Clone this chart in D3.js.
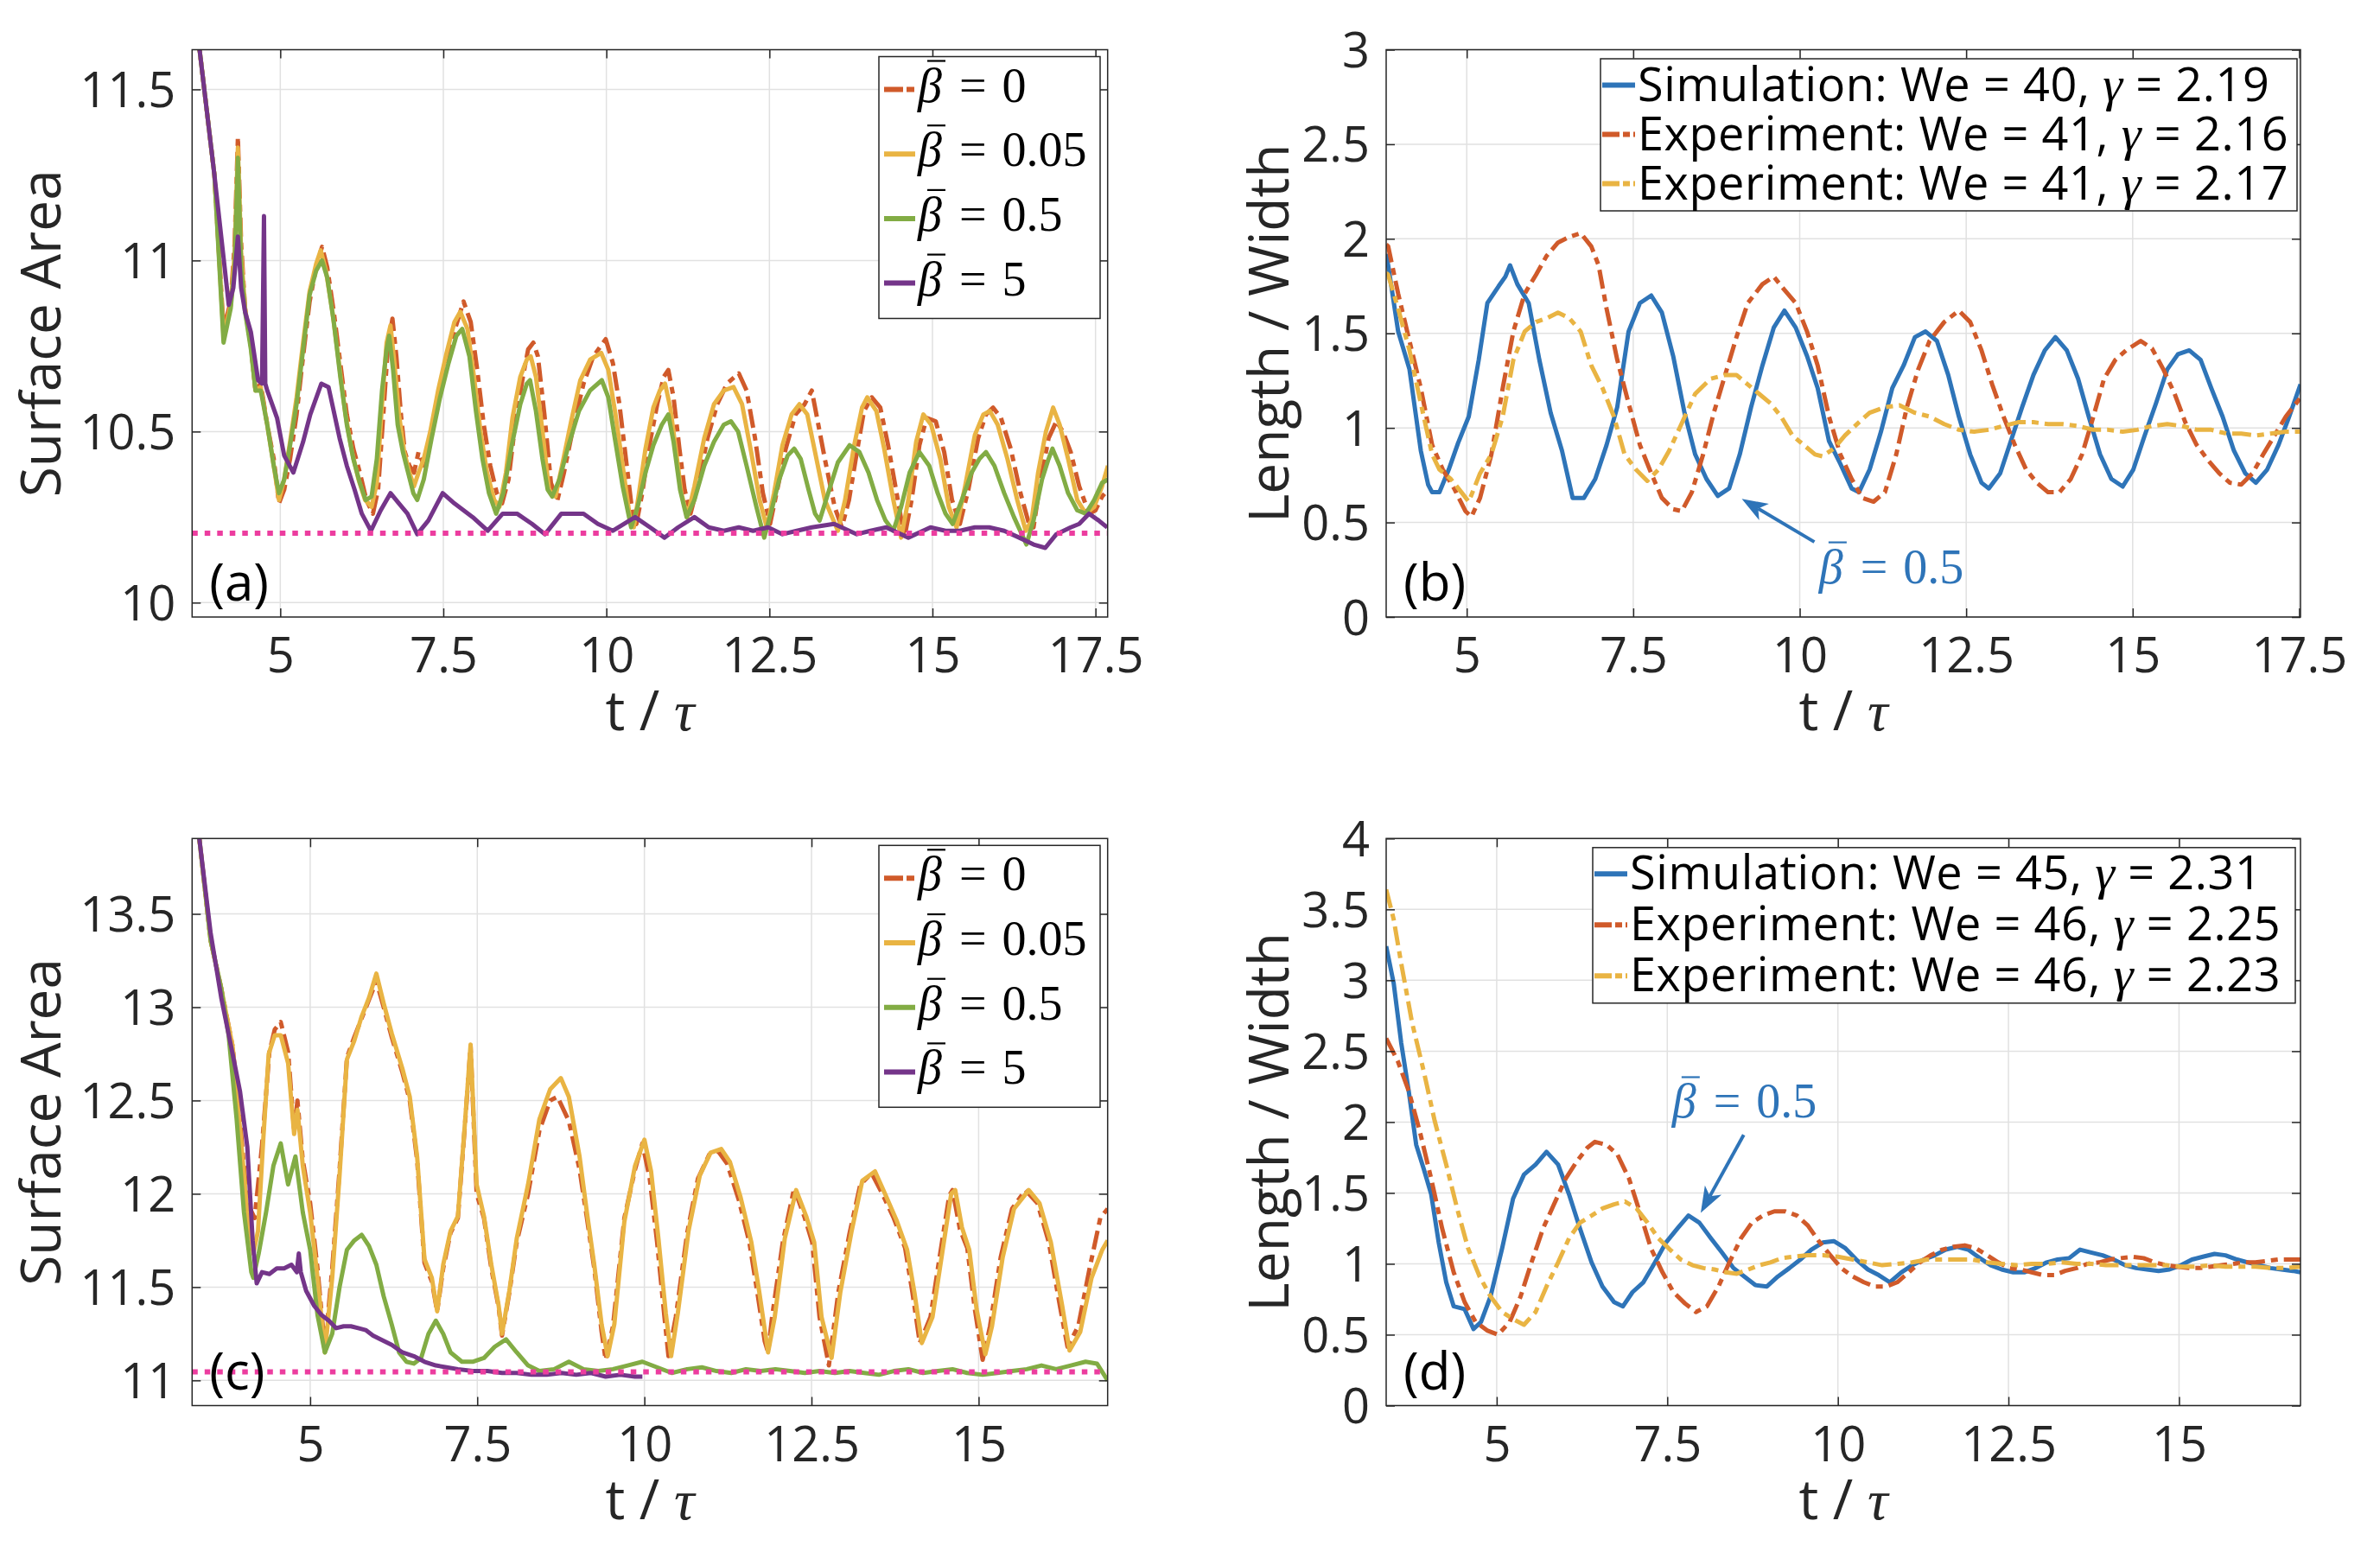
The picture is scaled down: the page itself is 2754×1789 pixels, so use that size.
<!DOCTYPE html>
<html><head><meta charset="utf-8">
<script src="https://cdn.jsdelivr.net/npm/d3@7"></script>
<style>body{margin:0;background:#fff}svg{display:block}</style>
</head><body>
<svg id="c" width="2754" height="1789"></svg>
<script>
// ---------------- DATA ----------------
const xTicksAB = [5, 7.5, 10, 12.5, 15, 17.5];
const xTicksCD = [5, 7.5, 10, 12.5, 15];
const yTicksA = [10, 10.5, 11, 11.5];
const yTicksB = [0, 0.5, 1, 1.5, 2, 2.5, 3];
const yTicksC = [11, 11.5, 12, 12.5, 13, 13.5];
const yTicksD = [0, 0.5, 1, 1.5, 2, 2.5, 3, 3.5, 4];
const betaLabels = ["0", "0.05", "0.5", "5"];
const legendB = [["Simulation: We = 40, ", " = 2.19"], ["Experiment: We = 41, ", " = 2.16"], ["Experiment: We = 41, ", " = 2.17"]];
const legendD = [["Simulation: We = 45, ", " = 2.31"], ["Experiment: We = 46, ", " = 2.25"], ["Experiment: We = 46, ", " = 2.23"]];
const refA = 10.203;
const refC = 11.046;

// panel (a) surface area
const a_b0 = [[3.65,11.66],[3.76,11.62],[3.99,11.25],[4.13,10.80],[4.24,10.88],[4.30,11.05],[4.35,11.36],[4.40,11.05],[4.46,10.86],[4.55,10.75],[4.62,10.62],[4.70,10.64],[4.80,10.52],[4.90,10.42],[4.98,10.29],[5.06,10.33],[5.15,10.42],[5.25,10.55],[5.35,10.72],[5.45,10.88],[5.55,10.98],[5.64,11.04],[5.72,10.98],[5.82,10.85],[5.92,10.70],[6.02,10.55],[6.12,10.45],[6.22,10.38],[6.32,10.30],[6.42,10.26],[6.50,10.33],[6.58,10.55],[6.65,10.75],[6.72,10.83],[6.78,10.72],[6.85,10.55],[6.91,10.44],[6.98,10.40],[7.05,10.38],[7.12,10.44],[7.21,10.40],[7.30,10.48],[7.42,10.58],[7.55,10.70],[7.68,10.80],[7.81,10.88],[7.92,10.82],[8.02,10.68],[8.12,10.52],[8.22,10.40],[8.32,10.32],[8.40,10.29],[8.50,10.36],[8.60,10.52],[8.72,10.66],[8.80,10.74],[8.88,10.76],[8.95,10.72],[9.05,10.55],[9.15,10.35],[9.25,10.30],[9.35,10.38],[9.50,10.52],[9.65,10.64],[9.80,10.72],[9.99,10.77],[10.10,10.70],[10.20,10.58],[10.30,10.42],[10.40,10.26],[10.46,10.23],[10.55,10.32],[10.65,10.45],[10.78,10.58],[10.88,10.66],[10.95,10.68],[11.03,10.60],[11.12,10.45],[11.20,10.33],[11.29,10.26],[11.40,10.34],[11.55,10.48],[11.70,10.58],[11.85,10.64],[12.03,10.67],[12.15,10.62],[12.28,10.48],[12.40,10.32],[12.51,10.23],[12.62,10.33],[12.75,10.45],[12.90,10.55],[13.04,10.58],[13.15,10.62],[13.22,10.55],[13.35,10.42],[13.50,10.28],[13.61,10.22],[13.72,10.30],[13.85,10.45],[13.95,10.56],[14.07,10.60],[14.20,10.57],[14.32,10.46],[14.45,10.32],[14.57,10.19],[14.68,10.30],[14.80,10.46],[14.91,10.54],[15.05,10.53],[15.18,10.44],[15.30,10.30],[15.42,10.23],[15.55,10.33],[15.70,10.48],[15.82,10.55],[15.93,10.57],[16.05,10.54],[16.20,10.45],[16.35,10.32],[16.48,10.23],[16.55,10.22],[16.65,10.35],[16.78,10.48],[16.90,10.53],[17.00,10.50],[17.12,10.44],[17.25,10.34],[17.40,10.26],[17.50,10.27],[17.60,10.31],[17.69,10.33]];
const a_b005 = [[3.65,11.66],[3.76,11.62],[3.99,11.25],[4.13,10.78],[4.24,10.87],[4.30,11.02],[4.35,11.33],[4.40,11.02],[4.46,10.86],[4.55,10.75],[4.62,10.62],[4.70,10.63],[4.80,10.52],[4.90,10.40],[4.98,10.30],[5.06,10.36],[5.15,10.47],[5.25,10.60],[5.35,10.76],[5.45,10.91],[5.55,10.99],[5.62,11.03],[5.70,10.97],[5.80,10.85],[5.90,10.70],[6.00,10.55],[6.10,10.44],[6.20,10.36],[6.30,10.30],[6.40,10.28],[6.48,10.35],[6.56,10.58],[6.63,10.76],[6.69,10.81],[6.75,10.70],[6.82,10.55],[6.90,10.44],[6.98,10.38],[7.05,10.34],[7.12,10.38],[7.20,10.42],[7.30,10.50],[7.42,10.62],[7.55,10.73],[7.67,10.82],[7.76,10.85],[7.87,10.80],[7.97,10.66],[8.07,10.50],[8.17,10.38],[8.28,10.30],[8.36,10.28],[8.46,10.38],[8.56,10.54],[8.68,10.66],[8.78,10.71],[8.84,10.72],[8.92,10.66],[9.02,10.50],[9.12,10.33],[9.22,10.31],[9.32,10.40],[9.46,10.53],[9.60,10.65],[9.75,10.71],[9.92,10.73],[10.03,10.68],[10.14,10.55],[10.25,10.40],[10.36,10.25],[10.42,10.22],[10.50,10.32],[10.60,10.45],[10.72,10.57],[10.82,10.62],[10.90,10.64],[10.98,10.57],[11.07,10.44],[11.15,10.32],[11.24,10.25],[11.35,10.34],[11.50,10.48],[11.65,10.58],[11.80,10.62],[11.95,10.63],[12.08,10.58],[12.22,10.44],[12.35,10.30],[12.46,10.22],[12.57,10.32],[12.70,10.46],[12.84,10.55],[12.96,10.58],[13.08,10.55],[13.20,10.44],[13.35,10.30],[13.55,10.21],[13.66,10.30],[13.80,10.46],[13.92,10.57],[14.00,10.60],[14.14,10.56],[14.26,10.45],[14.40,10.30],[14.52,10.19],[14.63,10.30],[14.75,10.47],[14.86,10.55],[14.98,10.52],[15.12,10.42],[15.25,10.28],[15.37,10.22],[15.50,10.34],[15.65,10.49],[15.78,10.55],[15.88,10.56],[16.00,10.52],[16.15,10.42],[16.30,10.30],[16.43,10.21],[16.52,10.24],[16.62,10.38],[16.74,10.50],[16.85,10.57],[16.95,10.52],[17.08,10.42],[17.22,10.30],[17.35,10.26],[17.48,10.28],[17.60,10.34],[17.69,10.40]];
const a_b05 = [[3.65,11.66],[3.76,11.62],[3.99,11.25],[4.13,10.76],[4.24,10.86],[4.30,10.98],[4.35,11.30],[4.40,10.98],[4.46,10.85],[4.55,10.74],[4.62,10.62],[4.70,10.62],[4.80,10.52],[4.90,10.40],[4.98,10.32],[5.06,10.36],[5.15,10.46],[5.25,10.58],[5.35,10.74],[5.45,10.90],[5.55,10.97],[5.64,11.00],[5.72,10.95],[5.82,10.82],[5.92,10.66],[6.02,10.52],[6.12,10.42],[6.22,10.35],[6.31,10.30],[6.40,10.31],[6.48,10.42],[6.56,10.62],[6.63,10.74],[6.67,10.78],[6.73,10.68],[6.80,10.52],[6.88,10.44],[6.96,10.38],[7.04,10.32],[7.10,10.30],[7.20,10.36],[7.32,10.48],[7.45,10.60],[7.58,10.70],[7.70,10.78],[7.79,10.80],[7.90,10.72],[8.00,10.56],[8.10,10.42],[8.20,10.32],[8.31,10.26],[8.42,10.32],[8.55,10.46],[8.68,10.58],[8.78,10.64],[8.83,10.65],[8.92,10.56],[9.02,10.42],[9.10,10.33],[9.17,10.31],[9.28,10.36],[9.42,10.46],[9.58,10.56],[9.75,10.62],[9.93,10.65],[10.03,10.60],[10.13,10.48],[10.25,10.34],[10.38,10.22],[10.48,10.28],[10.60,10.38],[10.72,10.46],[10.85,10.52],[10.95,10.55],[11.03,10.47],[11.13,10.33],[11.23,10.25],[11.35,10.30],[11.50,10.40],[11.65,10.47],[11.80,10.52],[11.91,10.53],[12.02,10.50],[12.15,10.40],[12.30,10.28],[12.42,10.19],[12.52,10.26],[12.65,10.36],[12.78,10.43],[12.88,10.45],[12.98,10.42],[13.10,10.33],[13.20,10.26],[13.27,10.24],[13.40,10.32],[13.55,10.41],[13.73,10.46],[13.88,10.44],[14.02,10.38],[14.15,10.30],[14.28,10.24],[14.40,10.21],[14.52,10.28],[14.65,10.38],[14.80,10.44],[14.95,10.40],[15.08,10.32],[15.20,10.26],[15.31,10.23],[15.45,10.30],[15.60,10.38],[15.72,10.42],[15.82,10.44],[15.95,10.40],[16.10,10.32],[16.25,10.25],[16.44,10.17],[16.55,10.24],[16.68,10.36],[16.78,10.42],[16.84,10.45],[16.95,10.40],[17.08,10.32],[17.22,10.27],[17.35,10.26],[17.48,10.30],[17.60,10.35],[17.69,10.36]];
const a_b5 = [[3.65,11.66],[3.76,11.62],[3.99,11.25],[4.21,10.87],[4.28,10.92],[4.35,11.07],[4.40,10.92],[4.46,10.85],[4.55,10.79],[4.66,10.65],[4.72,10.64],[4.75,11.13],[4.77,10.64],[4.80,10.62],[4.95,10.54],[5.06,10.43],[5.20,10.38],[5.35,10.47],[5.46,10.55],[5.63,10.64],[5.74,10.63],[5.91,10.48],[6.02,10.40],[6.14,10.33],[6.25,10.26],[6.39,10.21],[6.54,10.27],[6.69,10.32],[6.82,10.29],[6.95,10.26],[7.10,10.20],[7.27,10.24],[7.49,10.32],[7.67,10.29],[7.95,10.25],[8.18,10.21],[8.41,10.26],[8.63,10.26],[8.86,10.23],[9.06,10.20],[9.31,10.26],[9.65,10.26],[9.87,10.23],[10.10,10.21],[10.44,10.25],[10.67,10.22],[10.89,10.19],[11.10,10.22],[11.35,10.25],[11.57,10.22],[11.80,10.21],[12.03,10.22],[12.25,10.21],[12.48,10.22],[12.70,10.20],[12.92,10.21],[13.15,10.22],[13.49,10.23],[13.84,10.20],[14.05,10.21],[14.29,10.22],[14.63,10.19],[14.97,10.22],[15.20,10.21],[15.42,10.21],[15.65,10.22],[15.87,10.22],[16.10,10.21],[16.33,10.19],[16.55,10.17],[16.73,10.16],[16.90,10.20],[17.12,10.22],[17.25,10.23],[17.40,10.26],[17.55,10.24],[17.68,10.22]];

// panel (b) length / width
const b_sim = [[3.79,1.92],[3.82,1.86],[3.97,1.51],[4.14,1.31],[4.31,0.88],[4.42,0.70],[4.48,0.66],[4.59,0.66],[4.73,0.78],[4.87,0.92],[5.03,1.06],[5.18,1.36],[5.31,1.66],[5.48,1.75],[5.58,1.80],[5.65,1.86],[5.76,1.76],[5.93,1.66],[6.09,1.36],[6.26,1.08],[6.43,0.88],[6.59,0.63],[6.76,0.63],[6.93,0.73],[7.10,0.91],[7.26,1.11],[7.43,1.51],[7.60,1.66],[7.77,1.70],[7.93,1.61],[8.10,1.38],[8.27,1.08],[8.43,0.86],[8.60,0.73],[8.77,0.64],[8.94,0.68],[9.10,0.86],[9.27,1.11],[9.44,1.33],[9.61,1.53],[9.77,1.62],[9.94,1.53],[10.11,1.38],[10.27,1.21],[10.44,0.93],[10.61,0.81],[10.78,0.68],[10.89,0.66],[11.05,0.78],[11.22,0.98],[11.39,1.21],[11.56,1.33],[11.73,1.48],[11.89,1.51],[12.06,1.46],[12.23,1.28],[12.39,1.06],[12.56,0.86],[12.73,0.71],[12.84,0.68],[13.01,0.76],[13.17,0.93],[13.34,1.11],[13.51,1.28],[13.68,1.41],[13.84,1.48],[14.01,1.41],[14.18,1.26],[14.34,1.06],[14.51,0.86],[14.68,0.73],[14.85,0.69],[15.01,0.78],[15.18,0.96],[15.35,1.13],[15.52,1.31],[15.68,1.39],[15.85,1.41],[16.02,1.36],[16.18,1.21],[16.35,1.06],[16.52,0.88],[16.69,0.76],[16.85,0.71],[17.02,0.78],[17.19,0.91],[17.35,1.06],[17.52,1.23]];
const b_exp1 = [[3.79,1.97],[3.82,1.96],[3.97,1.71],[4.14,1.46],[4.31,1.21],[4.48,0.91],[4.64,0.78],[4.81,0.68],[4.98,0.56],[5.07,0.53],[5.20,0.63],[5.37,0.86],[5.54,1.21],[5.70,1.51],[5.87,1.71],[6.04,1.81],[6.20,1.91],[6.37,1.98],[6.54,2.01],[6.71,2.03],[6.87,1.96],[6.98,1.86],[7.10,1.63],[7.26,1.36],[7.43,1.13],[7.60,0.91],[7.77,0.76],[7.93,0.63],[8.10,0.57],[8.23,0.56],[8.38,0.66],[8.55,0.86],[8.71,1.08],[8.88,1.28],[9.05,1.48],[9.22,1.66],[9.44,1.76],[9.61,1.80],[9.77,1.73],[9.94,1.66],[10.11,1.51],[10.27,1.33],[10.44,1.06],[10.61,0.86],[10.78,0.73],[10.94,0.63],[11.11,0.61],[11.28,0.66],[11.45,0.86],[11.61,1.11],[11.78,1.31],[11.95,1.46],[12.17,1.56],[12.39,1.62],[12.56,1.56],[12.73,1.41],[12.89,1.23],[13.06,1.06],[13.23,0.91],[13.40,0.78],[13.56,0.71],[13.73,0.66],[13.90,0.66],[14.07,0.73],[14.24,0.86],[14.41,1.06],[14.57,1.26],[14.74,1.36],[14.90,1.41],[15.12,1.46],[15.29,1.42],[15.46,1.31],[15.63,1.18],[15.79,1.03],[15.96,0.91],[16.13,0.83],[16.30,0.76],[16.46,0.71],[16.63,0.70],[16.80,0.76],[16.96,0.86],[17.13,0.96],[17.30,1.06],[17.52,1.16]];
const b_exp2 = [[3.79,1.82],[3.82,1.81],[3.97,1.63],[4.14,1.41],[4.31,1.13],[4.48,0.86],[4.59,0.78],[4.76,0.73],[4.92,0.66],[5.03,0.61],[5.20,0.76],[5.37,0.86],[5.54,1.06],[5.70,1.36],[5.87,1.51],[6.04,1.56],[6.20,1.58],[6.37,1.61],[6.54,1.58],[6.71,1.51],[6.87,1.33],[7.04,1.21],[7.21,1.06],[7.37,0.86],[7.54,0.78],[7.71,0.72],[7.88,0.78],[8.04,0.88],[8.21,1.01],[8.43,1.18],[8.66,1.26],[8.88,1.28],[9.05,1.28],[9.22,1.23],[9.39,1.18],[9.56,1.13],[9.72,1.06],[9.89,0.96],[10.06,0.91],[10.23,0.86],[10.34,0.85],[10.51,0.89],[10.68,0.96],[10.89,1.03],[11.05,1.08],[11.28,1.11],[11.50,1.12],[11.73,1.08],[11.95,1.06],[12.17,1.02],[12.39,0.99],[12.62,0.98],[12.84,0.99],[13.06,1.01],[13.28,1.03],[13.51,1.03],[13.73,1.02],[13.95,1.02],[14.18,1.01],[14.41,0.99],[14.63,0.99],[14.85,0.98],[15.07,0.99],[15.29,1.01],[15.52,1.02],[15.74,1.01],[15.96,0.99],[16.18,0.99],[16.41,0.97],[16.63,0.97],[16.85,0.96],[17.07,0.97],[17.30,0.98],[17.52,0.98]];

// panel (c) surface area
const c_b0 = [[3.23,13.95],[3.34,13.91],[3.51,13.36],[3.67,13.10],[3.84,12.79],[3.95,12.39],[4.06,11.95],[4.17,11.87],[4.28,12.26],[4.39,12.76],[4.47,12.88],[4.56,12.92],[4.67,12.76],[4.76,12.34],[4.81,12.50],[4.89,12.18],[5.00,11.95],[5.11,11.60],[5.22,11.17],[5.33,11.60],[5.44,12.13],[5.55,12.73],[5.66,12.84],[5.77,12.94],[5.88,13.04],[5.99,13.14],[6.10,13.00],[6.22,12.84],[6.38,12.65],[6.49,12.50],[6.60,12.18],[6.71,11.63],[6.82,11.53],[6.90,11.37],[6.99,11.60],[7.10,11.79],[7.21,11.87],[7.32,12.39],[7.40,12.79],[7.49,12.00],[7.60,11.87],[7.71,11.60],[7.82,11.39],[7.87,11.24],[7.98,11.47],[8.09,11.74],[8.26,12.00],[8.43,12.34],[8.59,12.50],[8.70,12.52],[8.87,12.39],[9.03,12.13],[9.14,11.87],[9.25,11.60],[9.36,11.26],[9.42,11.11],[9.53,11.29],[9.70,11.87],[9.86,12.13],[9.97,12.27],[10.08,12.08],[10.19,11.74],[10.30,11.34],[10.36,11.13],[10.47,11.34],[10.64,11.79],[10.80,12.08],[10.97,12.21],[11.10,12.23],[11.24,12.16],[11.41,11.97],[11.57,11.74],[11.69,11.47],[11.80,11.21],[11.85,11.15],[11.91,11.34],[12.07,11.74],[12.24,12.03],[12.40,11.87],[12.51,11.74],[12.62,11.34],[12.76,11.08],[12.90,11.47],[13.07,11.79],[13.23,12.05],[13.40,12.11],[13.56,12.00],[13.73,11.87],[13.90,11.71],[14.01,11.47],[14.12,11.20],[14.28,11.34],[14.39,11.60],[14.56,11.99],[14.61,12.02],[14.72,11.81],[14.83,11.71],[14.94,11.39],[15.06,11.11],[15.17,11.29],[15.33,11.66],[15.50,11.92],[15.70,12.02],[15.88,11.95],[16.05,11.74],[16.22,11.39],[16.33,11.18],[16.49,11.29],[16.66,11.60],[16.82,11.87],[16.93,11.92]];
const c_b005 = [[3.23,13.95],[3.34,13.91],[3.51,13.36],[3.67,13.10],[3.84,12.79],[3.95,12.35],[4.06,11.90],[4.15,11.68],[4.22,11.80],[4.30,12.30],[4.38,12.75],[4.47,12.85],[4.56,12.85],[4.67,12.70],[4.76,12.32],[4.81,12.45],[4.89,12.15],[5.00,11.90],[5.11,11.55],[5.22,11.15],[5.33,11.55],[5.44,12.10],[5.55,12.72],[5.66,12.82],[5.77,12.95],[5.88,13.05],[5.99,13.18],[6.10,13.02],[6.22,12.86],[6.38,12.67],[6.49,12.52],[6.60,12.20],[6.71,11.65],[6.82,11.55],[6.90,11.37],[6.99,11.62],[7.10,11.80],[7.21,11.88],[7.32,12.40],[7.40,12.80],[7.49,12.05],[7.60,11.88],[7.71,11.62],[7.82,11.40],[7.87,11.25],[7.98,11.48],[8.09,11.76],[8.26,12.05],[8.43,12.40],[8.59,12.56],[8.75,12.62],[8.87,12.52],[9.03,12.20],[9.14,11.90],[9.25,11.62],[9.36,11.30],[9.45,11.13],[9.55,11.30],[9.70,11.85],[9.86,12.15],[10.00,12.29],[10.10,12.12],[10.21,11.76],[10.32,11.36],[10.40,11.13],[10.50,11.36],[10.66,11.80],[10.83,12.10],[10.99,12.22],[11.15,12.24],[11.28,12.17],[11.44,11.98],[11.60,11.74],[11.72,11.47],[11.85,11.15],[11.95,11.34],[12.10,11.76],[12.27,12.02],[12.42,11.88],[12.54,11.74],[12.65,11.34],[12.80,11.12],[12.93,11.47],[13.10,11.80],[13.26,12.07],[13.45,12.12],[13.60,12.00],[13.77,11.86],[13.93,11.70],[14.04,11.47],[14.15,11.20],[14.31,11.34],[14.42,11.60],[14.59,12.00],[14.65,12.02],[14.75,11.82],[14.86,11.70],[14.97,11.38],[15.10,11.14],[15.20,11.29],[15.36,11.66],[15.53,11.92],[15.75,12.02],[15.91,11.95],[16.08,11.74],[16.25,11.40],[16.36,11.16],[16.52,11.26],[16.69,11.55],[16.85,11.70],[16.93,11.75]];
const c_b05 = [[3.23,13.95],[3.34,13.91],[3.51,13.36],[3.67,13.10],[3.78,12.85],[3.90,12.40],[4.01,11.90],[4.12,11.58],[4.15,11.55],[4.23,11.68],[4.34,11.90],[4.45,12.15],[4.56,12.27],[4.67,12.05],[4.78,12.20],[4.89,11.90],[5.00,11.70],[5.11,11.35],[5.22,11.15],[5.33,11.25],[5.44,11.50],[5.55,11.70],[5.66,11.75],[5.77,11.78],[5.88,11.72],[5.99,11.62],[6.10,11.45],[6.22,11.30],[6.33,11.15],[6.44,11.10],[6.55,11.09],[6.66,11.12],[6.77,11.25],[6.88,11.32],[6.99,11.25],[7.10,11.15],[7.27,11.10],[7.43,11.10],[7.60,11.12],[7.76,11.18],[7.93,11.22],[8.09,11.15],[8.26,11.08],[8.43,11.05],[8.65,11.06],[8.87,11.10],[9.09,11.06],[9.31,11.05],[9.53,11.06],[9.75,11.08],[9.97,11.10],[10.19,11.07],[10.41,11.04],[10.64,11.06],[10.86,11.07],[11.08,11.05],[11.30,11.04],[11.52,11.06],[11.74,11.05],[11.96,11.06],[12.18,11.05],[12.40,11.04],[12.62,11.05],[12.85,11.04],[13.07,11.05],[13.29,11.04],[13.51,11.03],[13.73,11.05],[13.95,11.06],[14.17,11.04],[14.39,11.05],[14.61,11.06],[14.83,11.04],[15.06,11.03],[15.28,11.04],[15.50,11.05],[15.72,11.06],[15.94,11.08],[16.16,11.06],[16.38,11.08],[16.60,11.10],[16.77,11.09],[16.93,11.00]];
const c_b5 = [[3.23,13.95],[3.34,13.91],[3.51,13.40],[3.67,13.05],[3.84,12.75],[3.95,12.55],[4.06,12.25],[4.14,11.75],[4.20,11.52],[4.28,11.58],[4.39,11.57],[4.50,11.60],[4.61,11.60],[4.72,11.62],[4.80,11.58],[4.83,11.68],[4.86,11.58],[4.94,11.48],[5.06,11.40],[5.17,11.35],[5.28,11.32],[5.39,11.28],[5.50,11.29],[5.61,11.29],[5.72,11.28],[5.83,11.27],[5.94,11.24],[6.05,11.22],[6.22,11.19],[6.38,11.15],[6.55,11.13],[6.71,11.10],[6.88,11.08],[7.04,11.07],[7.21,11.06],[7.43,11.05],[7.65,11.05],[7.87,11.04],[8.09,11.04],[8.31,11.03],[8.54,11.03],[8.76,11.04],[8.98,11.03],[9.20,11.04],[9.42,11.02],[9.64,11.03],[9.86,11.02],[9.97,11.02]];

// panel (d) length / width
const d_sim = [[3.38,3.24],[3.49,2.98],[3.60,2.56],[3.71,2.22],[3.82,1.84],[3.93,1.67],[4.04,1.49],[4.15,1.15],[4.26,0.87],[4.37,0.70],[4.53,0.68],[4.66,0.54],[4.77,0.59],[4.91,0.77],[5.08,1.11],[5.24,1.46],[5.40,1.63],[5.57,1.70],[5.73,1.79],[5.90,1.70],[6.06,1.49],[6.22,1.25],[6.39,1.01],[6.55,0.84],[6.72,0.73],[6.85,0.70],[6.99,0.80],[7.15,0.87],[7.32,1.01],[7.48,1.15],[7.65,1.25],[7.81,1.34],[7.97,1.29],[8.14,1.18],[8.30,1.08],[8.47,0.97],[8.63,0.91],[8.79,0.85],[8.96,0.84],[9.12,0.91],[9.29,0.97],[9.45,1.03],[9.61,1.10],[9.78,1.15],[9.94,1.16],[10.11,1.11],[10.27,1.03],[10.44,0.96],[10.60,0.92],[10.76,0.87],[10.93,0.94],[11.09,0.99],[11.26,1.03],[11.42,1.06],[11.58,1.10],[11.75,1.12],[11.91,1.10],[12.08,1.04],[12.24,0.99],[12.40,0.96],[12.57,0.94],[12.73,0.94],[12.90,0.97],[13.06,1.01],[13.22,1.03],[13.39,1.04],[13.55,1.10],[13.71,1.08],[13.88,1.06],[14.04,1.03],[14.21,0.99],[14.37,0.97],[14.53,0.96],[14.70,0.95],[14.86,0.96],[15.03,0.99],[15.19,1.03],[15.35,1.05],[15.52,1.07],[15.68,1.06],[15.85,1.03],[16.01,1.01],[16.18,0.99],[16.34,0.97],[16.50,0.96],[16.67,0.95],[16.78,0.94]];
const d_exp1 = [[3.38,2.59],[3.55,2.43],[3.71,2.22],[3.87,1.94],[4.04,1.60],[4.20,1.25],[4.37,0.94],[4.53,0.73],[4.69,0.59],[4.86,0.53],[5.02,0.50],[5.19,0.59],[5.35,0.77],[5.51,1.01],[5.68,1.25],[5.84,1.42],[6.01,1.60],[6.17,1.72],[6.33,1.82],[6.44,1.86],[6.61,1.84],[6.77,1.77],[6.94,1.60],[7.10,1.36],[7.26,1.11],[7.43,0.94],[7.59,0.80],[7.76,0.72],[7.92,0.66],[8.08,0.70],[8.25,0.84],[8.41,1.01],[8.58,1.18],[8.74,1.29],[8.90,1.34],[9.07,1.37],[9.23,1.37],[9.40,1.34],[9.56,1.27],[9.72,1.16],[9.89,1.06],[10.05,0.97],[10.22,0.91],[10.38,0.87],[10.54,0.84],[10.71,0.84],[10.87,0.87],[11.04,0.94],[11.20,1.01],[11.36,1.06],[11.53,1.10],[11.69,1.12],[11.86,1.13],[12.02,1.11],[12.19,1.06],[12.35,1.01],[12.51,0.97],[12.68,0.96],[12.84,0.94],[13.01,0.92],[13.17,0.92],[13.33,0.95],[13.50,0.97],[13.66,1.00],[13.83,1.01],[13.99,1.03],[14.15,1.04],[14.32,1.05],[14.48,1.04],[14.65,1.01],[14.81,0.99],[14.97,0.98],[15.14,0.97],[15.30,0.97],[15.47,0.98],[15.63,0.99],[15.79,1.00],[15.96,1.01],[16.12,1.01],[16.28,1.02],[16.45,1.03],[16.61,1.03],[16.78,1.03]];
const d_exp2 = [[3.38,3.64],[3.49,3.43],[3.60,3.12],[3.76,2.70],[3.93,2.36],[4.09,2.01],[4.26,1.70],[4.42,1.39],[4.58,1.11],[4.75,0.91],[4.91,0.77],[5.08,0.66],[5.24,0.61],[5.40,0.57],[5.57,0.66],[5.73,0.84],[5.90,1.01],[6.06,1.18],[6.22,1.29],[6.39,1.34],[6.55,1.39],[6.72,1.42],[6.88,1.44],[7.05,1.39],[7.21,1.29],[7.37,1.18],[7.54,1.10],[7.70,1.03],[7.87,0.99],[8.03,0.97],[8.19,0.96],[8.36,0.94],[8.52,0.93],[8.69,0.96],[8.85,0.99],[9.01,1.01],[9.18,1.04],[9.34,1.05],[9.56,1.06],[9.78,1.06],[10.00,1.05],[10.22,1.03],[10.44,1.01],[10.65,0.99],[10.87,1.00],[11.09,1.01],[11.31,1.03],[11.53,1.03],[11.75,1.03],[11.97,1.03],[12.19,1.01],[12.40,1.00],[12.62,0.99],[12.84,1.00],[13.06,1.00],[13.28,1.01],[13.50,1.00],[13.72,1.00],[13.93,0.99],[14.15,0.99],[14.37,0.99],[14.59,0.99],[14.81,0.99],[15.03,0.98],[15.25,0.98],[15.46,0.99],[15.68,0.98],[15.90,0.98],[16.12,0.98],[16.34,0.97],[16.56,0.97],[16.78,0.98]];

// ---------------- DRAWING ----------------
const svg = d3.select("#c");
const SANS = "'Open Sans', 'Noto Sans', sans-serif";
const SERIF = "'Liberation Serif', 'DejaVu Serif', serif";
const INK = "#262626";
const COL = {blue:"#2e74b8", orange:"#d05a2a", yellow:"#e9b443", green:"#82ac44", purple:"#743589", pink:"#ec3d9f"};
const DASHDOT = "22 7 8 7";
const defs = svg.append("defs");

function panel(p) {
  const x = d3.scaleLinear().domain(p.xd).range([p.L, p.R]);
  const y = d3.scaleLinear().domain(p.yd).range([p.B, p.T]);
  const g = svg.append("g");
  defs.append("clipPath").attr("id", "clip" + p.id).append("rect")
    .attr("x", p.L).attr("y", p.T).attr("width", p.R - p.L).attr("height", p.B - p.T);
  g.append("g").selectAll("line").data(p.xt).join("line")
    .attr("x1", d => x(d)).attr("x2", d => x(d)).attr("y1", p.T).attr("y2", p.B)
    .attr("stroke", "#e1e1e1").attr("stroke-width", 1.5);
  g.append("g").selectAll("line").data(p.yt).join("line")
    .attr("y1", d => y(d)).attr("y2", d => y(d)).attr("x1", p.L).attr("x2", p.R)
    .attr("stroke", "#e1e1e1").attr("stroke-width", 1.5);
  const line = d3.line().x(d => x(d[0])).y(d => y(d[1]));
  const sg = g.append("g").attr("clip-path", `url(#clip${p.id})`);
  p.series.forEach(s => {
    sg.append("path").attr("d", line(s.data)).attr("fill", "none")
      .attr("stroke", s.color).attr("stroke-width", 5)
      .attr("stroke-dasharray", s.dash || null)
      .attr("stroke-linejoin", "round");
  });
  if (p.ref != null) {
    sg.append("line").attr("x1", p.L).attr("x2", p.R).attr("y1", y(p.ref)).attr("y2", y(p.ref))
      .attr("stroke", COL.pink).attr("stroke-width", 6).attr("stroke-dasharray", "6.5 8");
  }
  const fmt = d3.format("~g");
  const mk = (gen, tr) => {
    const a = g.append("g").attr("transform", tr).call(gen);
    a.select(".domain").remove();
    a.selectAll(".tick line").attr("stroke", INK).attr("stroke-width", 1.5);
    return a;
  };
  const bx = mk(d3.axisBottom(x).tickValues(p.xt).tickSize(-10).tickFormat(fmt), `translate(0,${p.B})`);
  bx.selectAll("text").attr("y", 64).attr("dy", null)
    .attr("font-family", SANS).attr("font-size", 56).attr("fill", INK);
  mk(d3.axisTop(x).tickValues(p.xt).tickSize(-10), `translate(0,${p.T})`).selectAll("text").remove();
  const ly = mk(d3.axisLeft(y).tickValues(p.yt).tickSize(-10).tickFormat(fmt), `translate(${p.L},0)`);
  ly.selectAll("text").attr("x", -19).attr("dy", "0.357em")
    .attr("font-family", SANS).attr("font-size", 56).attr("fill", INK);
  mk(d3.axisRight(y).tickValues(p.yt).tickSize(-10), `translate(${p.R},0)`).selectAll("text").remove();
  g.append("rect").attr("x", p.L).attr("y", p.T).attr("width", p.R - p.L).attr("height", p.B - p.T)
    .attr("fill", "none").attr("stroke", INK).attr("stroke-width", 1.5);
  const xl = g.append("text").attr("x", (p.L + p.R) / 2).attr("y", p.B + 131)
    .attr("text-anchor", "middle").attr("font-family", SANS).attr("font-size", 64).attr("fill", INK);
  xl.append("tspan").text("t / ");
  xl.append("tspan").attr("font-family", SERIF).attr("font-style", "italic").attr("font-size", 66).text("τ");
  g.append("text").attr("transform", `translate(${p.ylx},${(p.T + p.B) / 2}) rotate(-90)`)
    .attr("text-anchor", "middle").attr("font-family", SANS).attr("font-size", 64).attr("fill", INK)
    .text(p.ylabel);
  g.append("text").attr("x", p.L + 20).attr("y", p.B - 19)
    .attr("font-family", SANS).attr("font-size", 60).attr("fill", "#000").text(p.tag);
  return {x, y, g};
}

// "beta-bar = value" in a LaTeX-like serif; the bar is drawn as a short stroke over the beta
function betaText(g, x0, yb, value, color) {
  const t = g.append("text").attr("x", x0).attr("y", yb)
    .attr("font-family", SERIF).attr("font-size", 56).attr("fill", color);
  t.append("tspan").attr("font-style", "italic").text("β");
  t.append("tspan").attr("dx", 20).text("=");
  t.append("tspan").attr("dx", 18).text(value);
  g.append("line").attr("x1", x0 + 11).attr("x2", x0 + 32).attr("y1", yb - 47).attr("y2", yb - 47)
    .attr("stroke", color).attr("stroke-width", 2.2);
}

function betaLegend(g, p, series) {
  const top = p.T + 8;
  g.append("rect").attr("x", 1017).attr("y", top).attr("width", 256).attr("height", 303)
    .attr("fill", "#fff").attr("stroke", INK).attr("stroke-width", 1.5);
  series.forEach((s, i) => {
    const cy = p.T + 46 + 74.7 * i;
    g.append("line").attr("x1", 1023).attr("x2", 1059).attr("y1", cy).attr("y2", cy)
      .attr("stroke", s.color).attr("stroke-width", 6).attr("stroke-dasharray", s.dash ? "22 4 9 4" : null);
    betaText(g, 1062, cy + 14, betaLabels[i], "#000");
  });
}

function simLegend(g, p, x0, w, gap, labels, series) {
  const top = p.T + 10.5;
  g.append("rect").attr("x", x0).attr("y", top).attr("width", w).attr("height", 2 * gap + 62)
    .attr("fill", "#fff").attr("stroke", INK).attr("stroke-width", 1.5);
  series.forEach((s, i) => {
    const cy = p.T + 41 + gap * i;
    g.append("line").attr("x1", x0 + 2).attr("x2", x0 + 40).attr("y1", cy).attr("y2", cy)
      .attr("stroke", s.color).attr("stroke-width", 6).attr("stroke-dasharray", s.dash ? "20 4 8 4" : null);
    const t = g.append("text").attr("x", x0 + 43).attr("y", cy + 18)
      .attr("font-family", SANS).attr("font-size", 54).attr("letter-spacing", 0.6).attr("fill", "#000");
    t.append("tspan").text(labels[i][0]);
    t.append("tspan").attr("font-family", SERIF).attr("font-style", "italic").attr("font-size", 58).text("γ");
    t.append("tspan").text(labels[i][1]);
  });
}

function arrowNote(P, tText, vText, t0, v0, t1, v1) {
  const g = P.g;
  const x0 = P.x(t0), y0 = P.y(v0), x1 = P.x(t1), y1 = P.y(v1);
  const dx = x1 - x0, dy = y1 - y0, len = Math.hypot(dx, dy);
  const ux = dx / len, uy = dy / len, nx = -uy, ny = ux;
  const hl = 30, hw = 11, back = 22;
  g.append("line").attr("x1", x0).attr("y1", y0).attr("x2", x1 - ux * back).attr("y2", y1 - uy * back)
    .attr("stroke", COL.blue).attr("stroke-width", 4);
  const pts = [[x1, y1], [x1 - ux * hl + nx * hw, y1 - uy * hl + ny * hw], [x1 - ux * back, y1 - uy * back],
               [x1 - ux * hl - nx * hw, y1 - uy * hl - ny * hw]];
  g.append("polygon").attr("points", pts.map(q => q.join(",")).join(" ")).attr("fill", COL.blue);
  betaText(g, P.x(tText), P.y(vText), "0.5", COL.blue);
}

const serA = [{data: a_b0, color: COL.orange, dash: DASHDOT}, {data: a_b005, color: COL.yellow},
              {data: a_b05, color: COL.green}, {data: a_b5, color: COL.purple}];
const serC = [{data: c_b0, color: COL.orange, dash: DASHDOT}, {data: c_b005, color: COL.yellow},
              {data: c_b05, color: COL.green}, {data: c_b5, color: COL.purple}];
const serB = [{data: b_sim, color: COL.blue}, {data: b_exp1, color: COL.orange, dash: DASHDOT},
              {data: b_exp2, color: COL.yellow, dash: DASHDOT}];
const serD = [{data: d_sim, color: COL.blue}, {data: d_exp1, color: COL.orange, dash: DASHDOT},
              {data: d_exp2, color: COL.yellow, dash: DASHDOT}];

const pA = {id: "a", tag: "(a)", L: 222.3, R: 1281.7, T: 57.5, B: 714, xd: [3.648, 17.686], yd: [9.958, 11.616],
            xt: xTicksAB, yt: yTicksA, series: serA, ref: refA, ylabel: "Surface Area", ylx: 70};
const pB = {id: "b", tag: "(b)", L: 1604, R: 2662, T: 57.5, B: 714, xd: [3.79, 17.52], yd: [0, 3],
            xt: xTicksAB, yt: yTicksB, series: serB, ylabel: "Length / Width", ylx: 1491};
const pC = {id: "c", tag: "(c)", L: 222.3, R: 1281.7, T: 970.3, B: 1626.5, xd: [3.234, 16.93], yd: [10.865, 13.904],
            xt: xTicksCD, yt: yTicksC, series: serC, ref: refC, ylabel: "Surface Area", ylx: 70};
const pD = {id: "d", tag: "(d)", L: 1604, R: 2662, T: 970.3, B: 1626.5, xd: [3.38, 16.78], yd: [0, 4],
            xt: xTicksCD, yt: yTicksD, series: serD, ylabel: "Length / Width", ylx: 1491};

const PA = panel(pA), PB = panel(pB), PC = panel(pC), PD = panel(pD);
betaLegend(PA.g, pA, serA);
betaLegend(PC.g, pC, serC);
simLegend(PB.g, pB, 1852, 806, 57, legendB, serB);
simLegend(PD.g, pD, 1843, 813, 59, legendD, serD);
arrowNote(PB, 10.29, 0.18, 10.22, 0.397, 9.13, 0.625);
arrowNote(PD, 7.57, 2.03, 8.62, 1.91, 7.99, 1.36);
</script>
</body></html>
